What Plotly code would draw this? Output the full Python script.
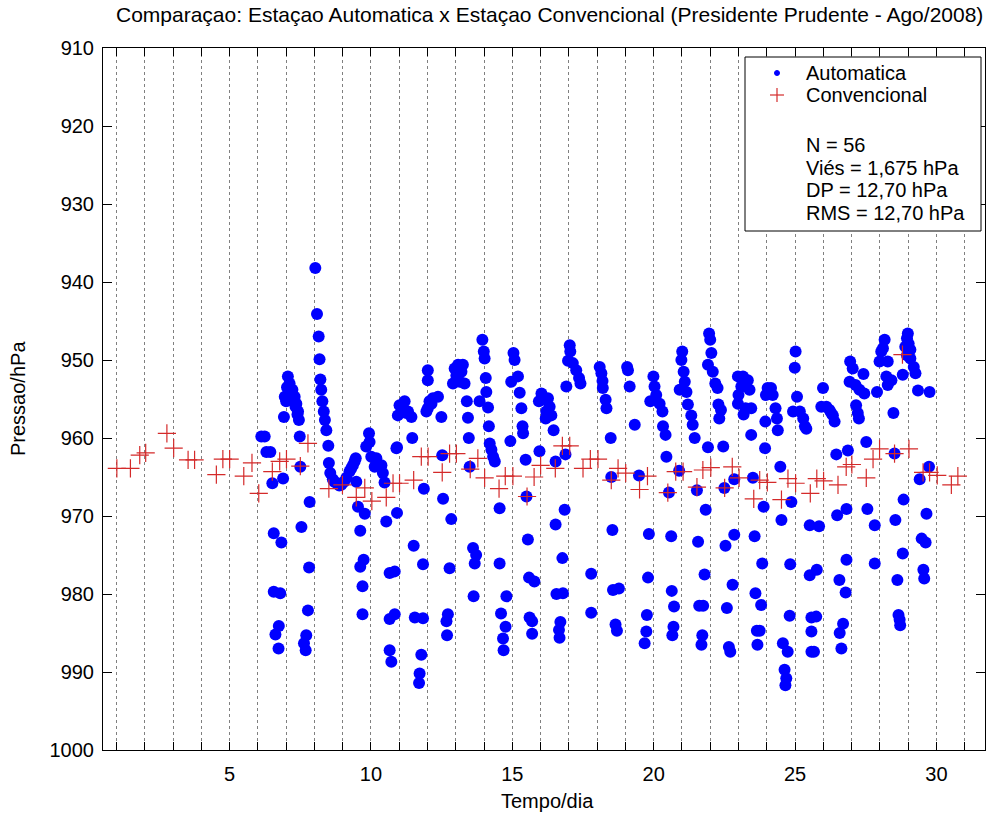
import plotly.graph_objects as go

# ---------------- data ----------------
# Automatic station: (day, pressure hPa), grouped by day column
auto_d06 = [(6.12,959.8),(6.24,959.8),(6.30,961.8),(6.44,961.8),(6.51,965.8),(6.89,965.2),(6.56,972.2),(6.83,973.4),
            (6.56,979.7),(6.79,979.9),(6.74,984.1),(6.62,985.2),(6.73,987.0)]
auto_d07 = [(7.06,952.1),(7.12,953.0),(7.22,953.8),(6.95,954.7),(7.30,954.7),(7.36,955.6),(7.00,955.3),(7.42,956.6),
            (7.45,957.7),(6.92,957.3),(7.03,953.5),(7.15,954.2),(7.26,955.0),(7.33,956.0),(7.40,957.0),
            (7.48,959.8),(7.50,963.7),(7.83,968.2),(7.54,971.4),(7.81,976.6),(7.77,982.1),(7.71,985.3),(7.63,986.3),(7.69,987.2)]
auto_d08 = [(8.03,938.2),(8.09,944.1),(8.15,947.0),(8.18,949.9),(8.21,952.5),(8.24,953.8),(8.28,955.3),(8.33,956.6),
            (8.37,957.7),(8.42,959.0),(8.49,961.0),(8.51,963.2),(8.56,964.5),(8.65,965.3),(8.70,965.6),(8.80,965.8),
            (8.88,966.1),(8.95,966.0),(9.05,965.6),(9.13,965.1),(9.24,964.3),(9.30,963.9),(9.36,963.5),(9.42,963.0),(9.46,962.6)]
auto_d09 = [(9.48,965.6),(9.54,968.8),(9.78,969.7),(9.62,971.9),(9.74,975.6),(9.62,976.5),(9.70,979.0),(9.70,982.6)]
auto_d10 = [(9.93,959.4),(9.95,960.5),(9.83,961.1),(10.01,962.4),(10.19,962.6),(10.13,963.7),(10.37,963.5),(10.42,964.5),
            (10.48,965.7),(10.54,970.7),(10.92,969.6),(10.90,961.3),(10.66,977.3),(10.84,977.1),(10.66,983.2),(10.84,982.6),
            (10.66,987.2),(10.72,988.7)]
auto_d11 = [(11.13,956.2),(10.95,957.1),(11.31,956.6),(11.43,957.3),(11.19,955.3),(11.01,955.8),(11.25,956.8),(11.46,960.0),
            (10.92,961.2),(11.87,966.5),(11.51,973.8),(11.84,976.2),(11.55,983.0),(11.84,983.1),(11.78,987.8),(11.72,990.2),(11.70,991.4)]
auto_d12 = [(12.01,951.3),(12.01,952.6),(12.19,954.9),(12.37,954.7),(12.01,956.2),(12.14,955.6),(11.96,956.6),(12.07,955.3),
            (12.49,957.3),(12.52,962.2),(12.55,967.8),(12.84,970.4),(12.78,976.7),(12.72,982.6),(12.67,983.5),(12.69,985.3)]
auto_d13 = [(13.08,950.6),(12.96,951.1),(13.20,951.5),(12.90,953.0),(13.14,952.8),(13.31,953.0),(13.02,952.0),(13.25,950.6),
            (13.39,955.3),(13.43,957.4),(13.46,960.0),(13.49,963.7),(13.61,974.1),(13.72,975.0),(13.67,976.1),(13.63,980.3)]
auto_d14 = [(13.94,947.4),(13.99,948.9),(14.02,949.8),(14.06,952.3),(14.08,954.1),(13.84,955.3),(14.14,956.1),(14.17,958.5),
            (14.20,960.7),(14.26,961.5),(14.32,962.4),(14.38,963.0),(14.55,969.0),(14.55,976.1),(14.79,980.3),(14.60,982.5),
            (14.76,984.2),(14.67,985.7),(14.69,987.2)]
auto_d15 = [(15.04,949.1),(15.08,950.0),(15.20,952.1),(14.96,952.8),(15.26,954.2),(15.32,956.2),(15.36,958.5),(15.38,959.4),
            (14.93,960.4),(15.47,962.8),(15.50,967.5),(15.55,973.0),(15.59,977.9),(15.78,978.4),(15.61,983.0),(15.70,983.5),(15.70,985.1)]
auto_d16 = [(16.03,954.3),(15.94,955.3),(16.14,955.1),(16.26,954.9),(16.32,956.0),(16.20,956.6),(16.38,957.1),(16.18,957.5),
            (16.46,959.0),(15.96,961.7),(16.53,963.0),(16.88,962.1),(16.85,969.2),(16.53,971.1),(16.77,975.4),(16.56,980.0),
            (16.79,979.9),(16.70,983.6),(16.65,984.6),(16.67,985.6)]
auto_d17 = [(17.03,948.1),(17.05,948.9),(16.97,950.1),(17.14,950.4),(17.26,951.3),(17.36,952.3),(17.41,953.0),(16.91,953.4),
            (17.79,977.4),(17.79,982.4)]
auto_d18 = [(18.09,950.9),(18.15,951.7),(18.19,952.7),(18.20,953.6),(18.30,955.1),(18.33,956.2),(18.48,960.0),(18.50,965.0),
            (18.54,971.8),(18.56,979.5),(18.77,979.3),(18.65,983.9),(18.70,984.7)]
auto_d19 = [(19.06,950.9),(19.09,951.3),(19.15,953.4),(19.33,958.3),(19.48,964.8),(19.83,972.3),(19.80,977.9),(19.76,982.7),
            (19.74,984.8),(19.68,986.3)]
auto_d20 = [(19.99,952.1),(20.03,953.4),(19.88,955.3),(20.09,954.5),(20.21,955.6),(20.31,956.6),(20.33,958.5),(20.42,959.6),
            (20.45,962.4),(20.54,967.0),(20.62,972.6),(20.64,979.6),(20.72,981.6),(20.70,984.2),(20.66,985.3),(20.90,964.2)]
auto_d21 = [(21.01,948.9),(20.98,950.0),(21.06,951.5),(21.10,952.8),(20.92,953.8),(21.16,954.1),(21.21,955.7),(21.33,957.1),
            (21.38,958.3),(21.45,960.0),(21.92,961.2),(21.53,966.7),(21.84,969.2),(21.57,973.3),(21.80,977.5),(21.61,981.5),
            (21.75,981.5),(21.72,985.3),(21.69,986.5)]
auto_d22 = [(21.96,946.6),(22.00,947.4),(22.04,949.1),(21.92,950.6),(22.09,951.5),(22.18,953.0),(22.26,953.6),(22.29,955.7),
            (22.38,956.4),(22.32,957.5),(22.46,961.1),(22.50,966.4),(22.85,965.3),(22.54,973.8),(22.85,972.4),(22.79,978.8),
            (22.59,981.8),(22.66,986.8),(22.71,987.4)]
auto_d23 = [(22.98,952.1),(23.16,952.1),(23.33,952.6),(23.10,953.4),(23.39,953.8),(23.00,954.5),(22.98,955.6),(23.25,956.2),
            (23.45,956.2),(23.18,957.0),(23.45,959.6),(23.51,965.1),(23.89,968.8),(23.57,972.6),(23.84,976.1),(23.60,979.9),
            (23.80,981.4),(23.65,984.7),(23.75,984.7),(23.67,986.5)]
auto_d24 = [(24.03,953.6),(24.15,953.6),(24.21,954.5),(23.97,954.5),(24.31,956.2),(24.36,957.5),(24.39,959.0),(23.95,957.9),
            (23.94,961.3),(24.48,963.7),(24.52,970.5),(24.87,968.2),(24.83,976.2),(24.81,982.8),(24.57,986.3),(24.74,987.4),
            (24.63,989.7),(24.69,990.8),(24.66,991.7)]
auto_d25 = [(25.02,948.9),(24.99,951.0),(25.07,954.7),(24.93,956.6),(25.17,956.6),(25.29,957.5),(25.35,958.5),(25.40,958.8),
            (25.52,971.2),(25.52,977.6),(25.58,983.0),(25.58,984.8),(25.58,987.4)]
auto_d26 = [(25.99,953.6),(25.93,956.0),(26.11,956.0),(26.22,956.4),(26.34,957.1),(26.40,957.9),(26.28,956.8),(26.46,962.1),
            (26.87,961.6),(25.85,971.3),(25.77,976.9),(25.75,982.9),(25.67,987.4),(26.49,969.9),(26.82,969.1),(26.57,978.2),
            (26.82,975.6),(26.79,979.8),(26.70,983.8),(26.58,985.0),(26.64,987.0)]
auto_d27 = [(26.95,950.2),(27.04,951.1),(27.42,951.8),(26.93,952.8),(27.14,953.2),(27.28,953.8),(27.45,954.3),(27.16,955.8),
            (27.22,956.8),(27.26,957.5),(27.52,960.5),(27.56,969.1),(27.82,971.2),(27.82,976.1),(27.90,954.1)]
auto_d28 = [(28.17,947.4),(28.11,948.5),(28.05,948.9),(27.99,950.2),(28.28,950.2),(28.23,952.1),(28.41,952.6),(28.28,953.2),
            (28.48,956.8),(28.52,962.0),(28.84,967.9),(28.55,970.5),(28.81,974.8),(28.62,978.2),(28.66,982.7),(28.70,983.3),(28.72,984.0)]
auto_d29 = [(28.99,946.6),(28.96,947.2),(29.02,947.9),(28.90,948.3),(29.08,948.7),(28.96,949.4),(29.08,949.8),(28.81,951.9),
            (29.20,950.9),(29.26,951.7),(29.35,953.9),(29.76,954.1),(29.74,963.7),(29.41,965.3),(29.65,969.7),(29.48,972.9),
            (29.62,973.4),(29.54,976.9),(29.57,978.0)]

auto_days = [auto_d06, auto_d07, auto_d08, auto_d09, auto_d10, auto_d11, auto_d12, auto_d13, auto_d14, auto_d15,
             auto_d16, auto_d17, auto_d18, auto_d19, auto_d20, auto_d21, auto_d22, auto_d23, auto_d24, auto_d25,
             auto_d26, auto_d27, auto_d28, auto_d29]
auto_t = [t for day in auto_days for (t, p) in day]
auto_p = [p for day in auto_days for (t, p) in day]

# Conventional station
conv_t = [1.01,1.49,1.82,2.03,2.78,3.02,3.53,3.76,4.53,4.76,
          5.00,5.50,5.79,6.03,6.51,6.77,7.01,7.50,7.77,8.51,
          8.99,9.48,9.78,10.03,10.54,10.78,11.01,11.51,11.78,12.02,
          12.52,12.78,13.02,13.51,13.78,14.02,14.53,14.75,15.02,15.52,
          15.77,16.00,16.52,16.77,17.03,17.50,17.76,18.03,18.50,18.74,
          19.01,19.50,19.78,20.50,20.78,21.04,21.53,21.74,22.02,22.51,
          22.78,23.02,23.54,23.75,24.02,24.52,24.75,25.02,25.54,25.77,
          26.01,26.52,26.81,27.01,27.52,27.76,27.99,28.52,28.80,29.03,
          29.53,29.76,30.03,30.53,30.76]
conv_p = [963.9,963.9,962.2,961.9,959.4,961.3,962.8,962.8,964.7,962.7,
          962.7,964.9,963.2,967.1,964.3,963.0,962.7,963.6,960.7,966.5,
          966.0,967.6,966.4,968.1,967.6,965.8,965.8,965.4,962.4,962.4,
          964.4,962.0,962.0,964.0,962.6,965.1,966.5,964.9,964.9,967.5,
          965.0,963.5,963.9,961.0,961.0,963.9,962.7,962.7,965.4,963.9,
          964.5,966.6,964.9,967.0,964.3,964.3,966.3,964.1,963.8,966.4,
          963.7,965.1,967.8,965.4,965.7,967.9,965.2,965.8,967.1,965.2,
          965.5,966.0,963.7,963.4,965.1,962.7,961.4,962.0,949.3,961.4,
          964.4,964.4,964.8,966.0,964.9]

x_tick_vals = list(range(1, 32))
x_tick_text = [str(d) if d % 5 == 0 else "" for d in x_tick_vals]
y_tick_vals = [910, 920, 930, 940, 950, 960, 970, 980, 990, 1000]

legend_names = ["Automatica", "Convencional"]
stats_lines = ["N = 56", "Viés = 1,675 hPa", "DP = 12,70 hPa", "RMS = 12,70 hPa"]
title_text = "Comparaçao: Estaçao Automatica x Estaçao Convencional (Presidente Prudente - Ago/2008)"

# ---------------- figure ----------------
W, H = 986, 814
L, R, T, B = 103, 1, 48, 64
PW, PH = W - L - R, H - T - B

def px(xp):
    return (xp - L) / PW

def py(yp):
    return (H - B - yp) / PH

FONT = "Liberation Sans, Arial, sans-serif"
RED = "#D42A2A"

fig = go.Figure()
fig.add_trace(go.Scatter(x=auto_t, y=auto_p, mode="markers", name=legend_names[0],
                         marker=dict(color="#0000FF", size=12, line=dict(width=0)),
                         showlegend=False))
fig.add_trace(go.Scatter(x=conv_t, y=conv_p, mode="markers", name=legend_names[1],
                         marker=dict(symbol="cross-thin", color=RED, size=13,
                                     line=dict(color=RED, width=1.2)),
                         showlegend=False))

shapes = [
    # legend box
    dict(type="rect", xref="paper", yref="paper", x0=px(745), x1=px(981), y0=py(231), y1=py(57),
         line=dict(color="black", width=1), fillcolor="white", layer="above"),
    # legend symbol: blue dot
    dict(type="circle", xref="paper", yref="paper", x0=px(774.5), x1=px(779.5), y0=py(75.5), y1=py(70.5),
         line=dict(color="#0000FF", width=1), fillcolor="#0000FF", layer="above"),
    # legend symbol: red plus
    dict(type="line", xref="paper", yref="paper", x0=px(770), x1=px(784), y0=py(95), y1=py(95),
         line=dict(color=RED, width=1.2), layer="above"),
    dict(type="line", xref="paper", yref="paper", x0=px(777), x1=px(777), y0=py(88), y1=py(102),
         line=dict(color=RED, width=1.2), layer="above"),
]

annotations = [
    dict(text=title_text, xref="paper", yref="paper", x=px(549), y=py(15), showarrow=False,
         xanchor="center", yanchor="middle", font=dict(size=21, color="black", family=FONT)),
    dict(text="Tempo/dia", xref="paper", yref="paper", x=px(547), y=py(801), showarrow=False,
         xanchor="center", yanchor="middle", font=dict(size=20, color="black", family=FONT)),
    dict(text="Pressao/hPa", xref="paper", yref="paper", x=px(18), y=py(399), showarrow=False,
         textangle=-90, xanchor="center", yanchor="middle", font=dict(size=20, color="black", family=FONT)),
]
legend_rows = [(legend_names[0], 73), (legend_names[1], 95)] + list(zip(stats_lines, [145, 168, 190, 213]))
for txt, yy in legend_rows:
    annotations.append(dict(text=txt, xref="paper", yref="paper", x=px(804), y=py(yy), showarrow=False,
                            xanchor="left", yanchor="middle", align="left",
                            font=dict(size=20, color="black", family=FONT)))

fig.update_layout(
    width=W, height=H, margin=dict(l=L, r=R, t=T, b=B, pad=0),
    paper_bgcolor="white", plot_bgcolor="white",
    font=dict(family=FONT, size=20, color="black"),
    shapes=shapes, annotations=annotations, showlegend=False,
    xaxis=dict(range=[0.52, 31.72], tickmode="array", tickvals=x_tick_vals, ticktext=x_tick_text,
               ticks="inside", ticklen=8, tickwidth=1, tickcolor="black",
               showline=True, linecolor="black", linewidth=1, mirror="ticks",
               showgrid=True, gridcolor="#808080", gridwidth=1, griddash="dot",
               zeroline=False, ticklabelstandoff=6,
               tickfont=dict(size=20, family=FONT, color="black")),
    yaxis=dict(range=[1000, 910], tickmode="array", tickvals=y_tick_vals,
               ticks="inside", ticklen=9, tickwidth=1, tickcolor="black",
               showline=True, linecolor="black", linewidth=1, mirror="ticks",
               showgrid=False, zeroline=False, ticklabelstandoff=4,
               tickfont=dict(size=20, family=FONT, color="black")),
)

fig.write_html("out.html")
